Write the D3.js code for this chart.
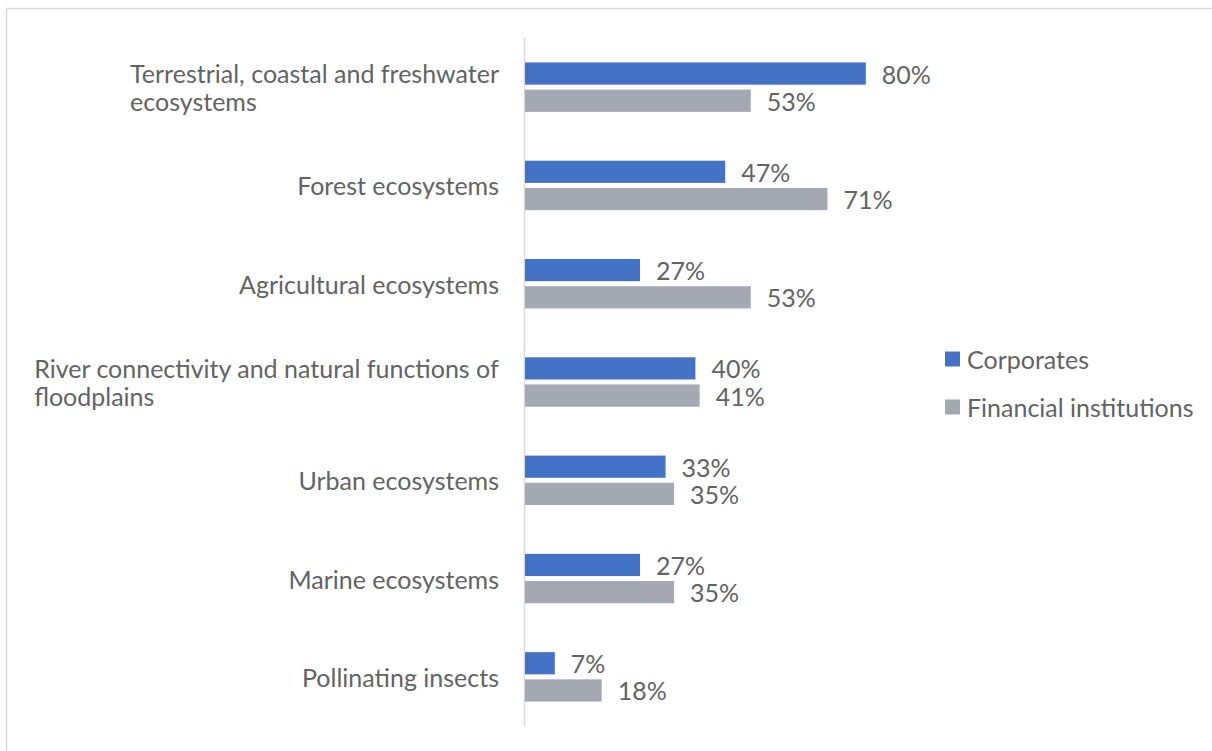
<!DOCTYPE html>
<html>
<head>
<meta charset="utf-8">
<script src="https://cdn.jsdelivr.net/npm/d3@7/dist/d3.min.js"></script>
<style>
  html, body { margin: 0; padding: 0; background: #fff; }
  svg { display: block; }
  text { font-family: Lato, "Open Sans", sans-serif; fill: #636363; }
</style>
</head>
<body>
<svg id="chart" width="1212" height="751"></svg>
<script>
// Share of respondents addressing each ecosystem type
const categories = [
  ["Terrestrial, coastal and freshwater", "ecosystems"],
  ["Forest ecosystems"],
  ["Agricultural ecosystems"],
  ["River connectivity and natural functions of", "floodplains"],
  ["Urban ecosystems"],
  ["Marine ecosystems"],
  ["Pollinating insects"]
];
const seriesNames = ["Corporates", "Financial institutions"];
const corporates = [80, 47, 27, 40, 33, 27, 7];
const financial = [53, 71, 53, 41, 35, 35, 18];
const colors = ["#4472C4", "#A3A8B3"];

const svg = d3.select("#chart");
const W = 1212, H = 751;

// chart frame
svg.append("rect")
  .attr("x", 6.5).attr("y", 8.5)
  .attr("width", W + 10).attr("height", H + 10)
  .attr("fill", "none").attr("stroke", "#d9d9d9").attr("stroke-width", 1.5);

const plot = { left: 525, top: 38, bottom: 726 };

const x = d3.scaleLinear().domain([0, 100]).range([plot.left, plot.left + 426]);
const y = d3.scaleBand()
  .domain(d3.range(categories.length))
  .range([plot.top, plot.bottom])
  .paddingInner(0).paddingOuter(0);

const barH = y.bandwidth() * 0.226;
const barGap = 5;

// vertical category axis line
svg.append("line")
  .attr("x1", plot.left - 0.5).attr("x2", plot.left - 0.5)
  .attr("y1", plot.top).attr("y2", plot.bottom)
  .attr("stroke", "#d9d9d9").attr("stroke-width", 1.5);

const series = [corporates, financial];
const fontSize = 25;

series.forEach((vals, si) => {
  const g = svg.append("g");
  vals.forEach((v, i) => {
    const mid = y(i) + y.bandwidth() / 2;
    const top = si === 0 ? mid - barGap / 2 - barH : mid + barGap / 2;
    g.append("rect")
      .attr("x", x(0)).attr("y", top)
      .attr("width", x(v) - x(0)).attr("height", barH)
      .attr("fill", colors[si]);
    g.append("text")
      .attr("x", x(v) + 16).attr("y", top + barH / 2)
      .attr("dominant-baseline", "central")
      .attr("font-size", fontSize)
      .text(v + "%");
  });
});

// category labels: right-aligned block, lines left-aligned inside it
categories.forEach((lines, i) => {
  const mid = y(i) + y.bandwidth() / 2;
  const lh = 28;
  const t = svg.append("text")
    .attr("font-size", fontSize)
    .attr("dominant-baseline", "central");
  lines.forEach((ln, k) => {
    t.append("tspan")
      .attr("x", 0)
      .attr("y", mid + (k - (lines.length - 1) / 2) * lh)
      .text(ln);
  });
  const w = t.node().getBBox().width;
  t.selectAll("tspan").attr("x", 499 - w);
});

// legend
const legend = svg.append("g");
seriesNames.forEach((name, i) => {
  const ly = 359 + i * 48;
  legend.append("rect")
    .attr("x", 945).attr("y", ly - 7.5)
    .attr("width", 15).attr("height", 15)
    .attr("fill", colors[i]);
  legend.append("text")
    .attr("x", 967).attr("y", ly)
    .attr("dominant-baseline", "central")
    .attr("font-size", fontSize)
    .text(name);
});
</script>
</body>
</html>
